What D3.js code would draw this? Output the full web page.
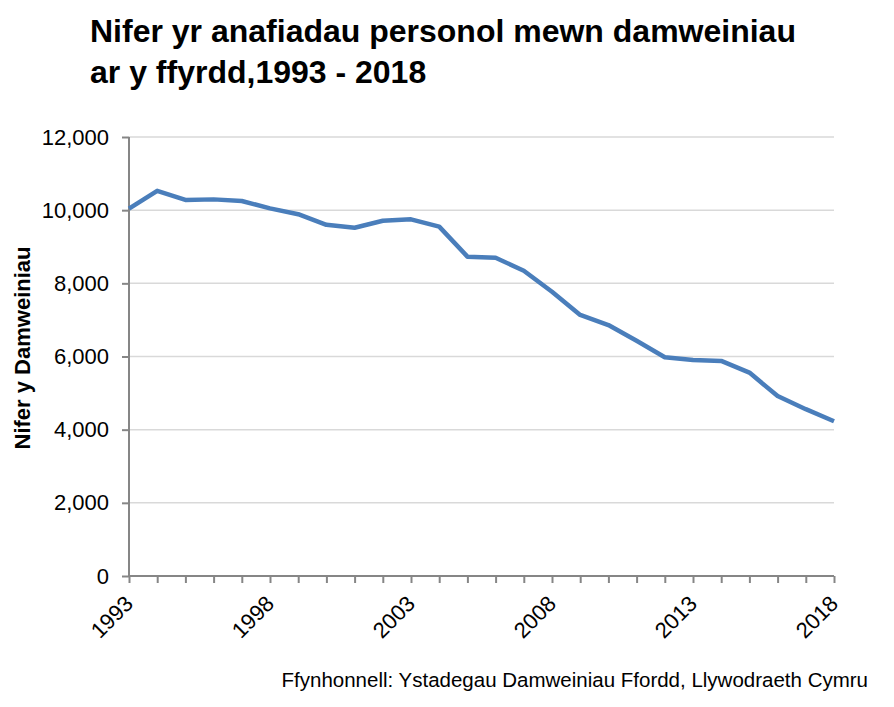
<!DOCTYPE html>
<meta charset="utf-8">
<script src="https://d3js.org/d3.v7.min.js"></script>
<style>
  body { margin: 0; background: #fff; }
  text { font-family: "Liberation Sans", Arial, sans-serif; }
</style>
<div id="chart"></div>
<script>
// data
var years = [1993, 1994, 1995, 1996, 1997, 1998, 1999, 2000, 2001, 2002, 2003, 2004, 2005,
             2006, 2007, 2008, 2009, 2010, 2011, 2012, 2013, 2014, 2015, 2016, 2017, 2018];
var casualties = [10040, 10530, 10280, 10295, 10250, 10050, 9890, 9600, 9520, 9710, 9750, 9550, 8730,
                  8700, 8345, 7770, 7135, 6860, 6430, 5980, 5905, 5880, 5560, 4920, 4560, 4230];
var yTicks = [0, 2000, 4000, 6000, 8000, 10000, 12000];
var xLabels = [1993, 1998, 2003, 2008, 2013, 2018];

var titleLines = ["Nifer yr anafiadau personol mewn damweiniau", "ar y ffyrdd,1993 - 2018"];
var yTitle = "Nifer y Damweiniau";
var source = "Ffynhonnell: Ystadegau Damweiniau Ffordd, Llywodraeth Cymru";

var W = 894, H = 707;
var margin = { top: 137, right: 60, bottom: 131, left: 129 },
    width = W - margin.left - margin.right,
    height = H - margin.top - margin.bottom;

var svg = d3.select("#chart").append("svg")
    .attr("width", W)
    .attr("height", H);

// title
svg.append("text")
    .attr("x", 90)
    .attr("y", 42)
    .style("font-size", "32px")
    .style("font-weight", "bold")
    .selectAll("tspan")
    .data(titleLines)
    .enter()
    .append("tspan")
    .attr("x", 90)
    .attr("dy", function (d, i) { return i === 0 ? 0 : 41; })
    .text(function (d) { return d; });

var g = svg.append("g")
    .attr("transform", "translate(" + margin.left + "," + margin.top + ")");

var x = d3.scaleLinear()
    .domain([1993, 2018])
    .range([0, width]);

var y = d3.scaleLinear()
    .domain([0, 12000])
    .range([height, 0]);

// gridlines
g.append("g")
    .selectAll("line")
    .data(yTicks.filter(function (d) { return d > 0; }))
    .enter()
    .append("line")
    .attr("x1", 0)
    .attr("x2", width)
    .attr("y1", function (d) { return y(d); })
    .attr("y2", function (d) { return y(d); })
    .attr("stroke", "#d9d9d9")
    .attr("stroke-width", 1.5);

// y axis
var yAxis = g.append("g")
    .call(d3.axisLeft(y).tickValues(yTicks).tickSize(7).tickPadding(13)
        .tickFormat(d3.format(",")));
yAxis.selectAll("text")
    .style("font-size", "22px")
    .attr("fill", "#000");

// x axis
var xAxis = g.append("g")
    .attr("transform", "translate(0," + height + ")")
    .call(d3.axisBottom(x).tickValues(years).tickSize(7).tickFormat(function (d) {
        return xLabels.indexOf(d) >= 0 ? d : "";
    }));
xAxis.selectAll("text")
    .style("font-size", "22px")
    .attr("fill", "#000")
    .attr("text-anchor", "end")
    .attr("dy", null)
    .attr("y", 0)
    .attr("transform", "translate(5,29) rotate(-45)");

g.selectAll(".domain, .tick line")
    .attr("stroke", "#868686")
    .attr("stroke-width", 2);
xAxis.select(".domain").attr("d", "M0,0H" + width);
yAxis.select(".domain").attr("d", "M0," + height + "V0");

// line
var line = d3.line()
    .x(function (d, i) { return x(years[i]); })
    .y(function (d) { return y(d); });

g.append("path")
    .datum(casualties)
    .attr("fill", "none")
    .attr("stroke", "#4a7ebb")
    .attr("stroke-width", 4.5)
    .attr("stroke-linejoin", "round")
    .attr("d", line);

// y axis title
svg.append("text")
    .attr("transform", "translate(30,348) rotate(-90)")
    .attr("text-anchor", "middle")
    .style("font-size", "22px")
    .style("font-weight", "bold")
    .text(yTitle);

// source
svg.append("text")
    .attr("x", 868)
    .attr("y", 687)
    .attr("text-anchor", "end")
    .style("font-size", "20.5px")
    .text(source);
</script>
